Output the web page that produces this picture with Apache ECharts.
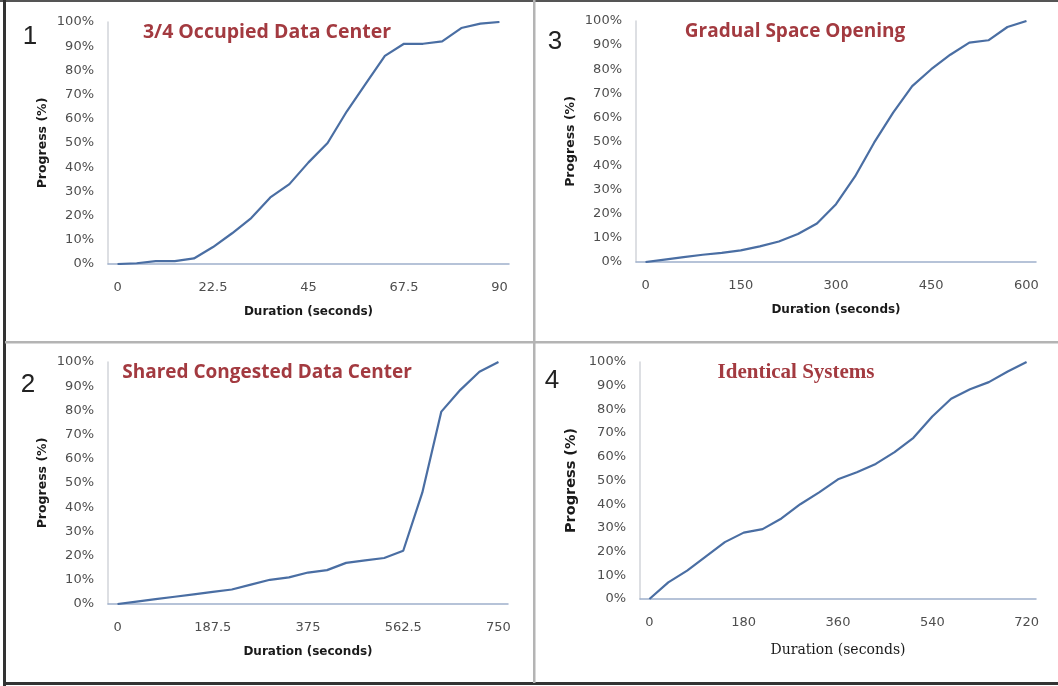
<!DOCTYPE html>
<html>
<head>
<meta charset="utf-8">
<script src="https://cdn.jsdelivr.net/npm/echarts@6/dist/echarts.min.js"></script>
<style>
html,body{margin:0;padding:0;background:#fff;}
#c{width:1058px;height:686px;}
</style>
</head>
<body>
<div id="c"></div>
<script>
// ---- Data ----
const titles = ['3/4 Occupied Data Center', 'Gradual Space Opening', 'Shared Congested Data Center', 'Identical Systems'];
const panelNumbers = ['1', '3', '2', '4'];

const cats1 = ['0','4.5','9','13.5','18','22.5','27','31.5','36','40.5','45','49.5','54','58.5','63','67.5','72','76.5','81','85.5','90'];
const vals1 = [0,0.3,1.2,1.2,2.3,7,12.7,19,27.5,33,42,50,63,74.5,86,91,91,92,97.5,99.3,100];

const cats3 = ['0','30','60','90','120','150','180','210','240','270','300','330','360','390','420','450','480','510','540','570','600'];
const vals3 = [0,1,2,3,3.8,4.8,6.5,8.5,11.6,16,24,35.5,49.5,62,73,80,86,91,92,97.5,100];

const cats2 = ['0','37.5','75','112.5','150','187.5','225','262.5','300','337.5','375','412.5','450','487.5','525','562.5','600','637.5','675','712.5','750'];
const vals2 = [0,1,2,3,4,5,6,8,10,11,13,14,17,18,19,22,46,79.5,88.5,96,100];

const cats4 = ['0','36','72','108','144','180','216','252','288','324','360','396','432','468','504','540','576','612','648','684','720'];
const vals4 = [0,7,12,18,24,28,29.5,34,40,45,50.5,53.5,57,62,68,77,84.5,88.5,91.5,96,100];

const yTicks = [0,10,20,30,40,50,60,70,80,90,100];

// ---- Layout ----
const grids = [
  {left:108, top:22, width:401, height:242},
  {left:636, top:21, width:400, height:241},
  {left:108, top:362, width:400, height:242},
  {left:640, top:362, width:396, height:237}
];
const catsAll = [cats1, cats3, cats2, cats4];
const valsAll = [vals1, vals3, vals2, vals4];

const lineColor = '#4a6ea3';
const labelColor = '#4e4e4e';
const titleColor = '#a33a40';

const xAxes = [], yAxes = [], series = [];
for (let i = 0; i < 4; i++) {
  const serif = (i === 3);
  xAxes.push({
    type:'category', gridIndex:i, data:catsAll[i], boundaryGap:true,
    axisLine:{show:true, lineStyle:{color:'#9fb0cc', width:1.5}},
    axisTick:{show:false},
    axisLabel:{interval:4, margin:17, color:labelColor, fontFamily:'DejaVu Sans', fontSize:13},
    splitLine:{show:false},
    name:'Duration (seconds)', nameLocation:'middle', nameGap: serif ? 44 : 42,
    nameTextStyle: serif
      ? {fontFamily:'DejaVu Serif', fontSize:14, color:'#1a1a1a'}
      : {fontFamily:'DejaVu Sans', fontWeight:'bold', fontSize:12, color:'#1a1a1a'}
  });
  yAxes.push({
    type:'value', gridIndex:i, min:0, max:100, interval:10,
    axisLine:{show:true, lineStyle:{color:'#d2d5da', width:1.5}},
    axisTick:{show:false},
    splitLine:{show:false},
    axisLabel:{margin:14, color:labelColor, fontFamily:'DejaVu Sans', fontSize:13, formatter:'{value}%'},
    name:'Progress (%)', nameLocation:'middle', nameGap: serif ? 61 : 59,
    nameTextStyle: serif
      ? {fontFamily:'DejaVu Sans', fontWeight:'bold', fontSize:14.5, color:'#1a1a1a'}
      : {fontFamily:'DejaVu Sans', fontWeight:'bold', fontSize:12.5, color:'#1a1a1a'}
  });
  series.push({
    type:'line', xAxisIndex:i, yAxisIndex:i, data:valsAll[i],
    symbol:'none', smooth:false,
    lineStyle:{color:lineColor, width:2.2}
  });
}

const titleCfg = [
  {left:267, top:32, font:'Open Sans', size:19.5},
  {left:795, top:32, font:'Open Sans', size:19},
  {left:267, top:373, font:'Open Sans', size:19},
  {left:796, top:373, font:'Liberation Serif', size:21}
];
const numCfg = [
  {x:30, y:37}, {x:555, y:42}, {x:28, y:385}, {x:552, y:381}
];

const graphics = [];
for (let i = 0; i < 4; i++) {
  graphics.push({
    type:'text', x:titleCfg[i].left, y:titleCfg[i].top,
    style:{text:titles[i], fill:titleColor, font:'bold ' + titleCfg[i].size + 'px "' + titleCfg[i].font + '"', textAlign:'center', textVerticalAlign:'middle'}
  });
  graphics.push({
    type:'text', x:numCfg[i].x, y:numCfg[i].y,
    style:{text:panelNumbers[i], fill:'#222', font:'26px "Liberation Sans"', textAlign:'center', textVerticalAlign:'middle'}
  });
}
// frame and dividers
graphics.push({type:'rect', shape:{x:0, y:0, width:1058, height:2}, style:{fill:'#555'}});
graphics.push({type:'rect', shape:{x:3, y:0, width:3, height:686}, style:{fill:'#333'}});
graphics.push({type:'rect', shape:{x:3, y:682, width:1055, height:3}, style:{fill:'#333'}});
graphics.push({type:'rect', shape:{x:533, y:0, width:2.5, height:683}, style:{fill:'#b4b4b4'}});
graphics.push({type:'rect', shape:{x:5, y:341, width:1053, height:2.5}, style:{fill:'#b4b4b4'}});

const chart = echarts.init(document.getElementById('c'), null, {renderer:'canvas'});
chart.setOption({
  animation:false,
  backgroundColor:'#ffffff',
  grid:grids,
  xAxis:xAxes,
  yAxis:yAxes,
  series:series,
  graphic:graphics
});
</script>
</body>
</html>
